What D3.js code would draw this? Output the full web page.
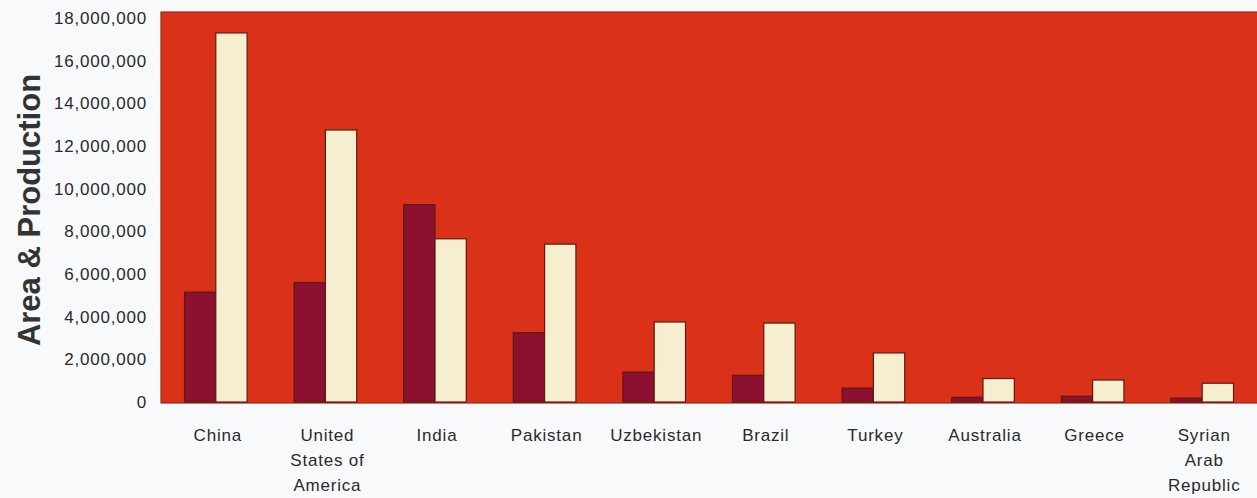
<!DOCTYPE html>
<html>
<head>
<meta charset="utf-8">
<script src="https://cdn.jsdelivr.net/npm/d3@7/dist/d3.min.js"></script>
<style>
  html, body { margin: 0; padding: 0; background: #f8f9fb; }
  svg { display: block; }
  .tick text, .cat { font-family: "Liberation Sans", Arial, sans-serif; font-size: 17px; letter-spacing: 0.8px; fill: #2a2a2a; }
</style>
</head>
<body>
<svg id="chart" width="1257" height="498"></svg>
<script>
// Cotton: harvested area (ha) and production (t) by country
const countries = ["China", "United States of America", "India", "Pakistan", "Uzbekistan",
                   "Brazil", "Turkey", "Australia", "Greece", "Syrian Arab Republic"];
const countryLines = [["China"], ["United", "States of", "America"], ["India"], ["Pakistan"],
                      ["Uzbekistan"], ["Brazil"], ["Turkey"], ["Australia"], ["Greece"],
                      ["Syrian", "Arab", "Republic"]];
const area       = [5150000, 5600000, 9250000, 3250000, 1400000, 1250000, 650000, 220000, 270000, 180000];
const production = [17300000, 12750000, 7650000, 7400000, 3750000, 3700000, 2300000, 1100000, 1030000, 880000];
const seriesKeys = ["area", "production"];
const yTicks = [0, 2000000, 4000000, 6000000, 8000000, 10000000, 12000000, 14000000, 16000000, 18000000];
const yTitle = "Area & Production";

const colors = { area: "#8c1030", production: "#f6efcf" };

const svg = d3.select("#chart");
const plot = { left: 161, right: 1257, top: 12, bottom: 403 };

const x0 = d3.scaleBand().domain(countries).range([plot.left, plot.right]).padding(0);
const x1 = d3.scaleBand().domain(seriesKeys).range([0, x0.bandwidth()])
  .paddingInner(0).paddingOuter(0.75);
const y = d3.scaleLinear().domain([0, 18000000]).range([402, 18]);

// plot background
svg.append("rect")
  .attr("x", plot.left).attr("y", plot.top)
  .attr("width", plot.right - plot.left + 2).attr("height", plot.bottom - plot.top)
  .attr("fill", "#da3219")
  .attr("stroke", "#9a2814").attr("stroke-width", 1.2);

// bars
const rows = countries.map((c, i) => ({ country: c, area: area[i], production: production[i] }));
const groups = svg.append("g").selectAll("g").data(rows).join("g")
  .attr("transform", d => `translate(${x0(d.country)},0)`);
groups.selectAll("rect")
  .data(d => seriesKeys.map(k => ({ key: k, value: d[k] })))
  .join("rect")
  .attr("x", d => x1(d.key))
  .attr("y", d => y(d.value))
  .attr("width", x1.bandwidth())
  .attr("height", d => y(0) - y(d.value))
  .attr("fill", d => colors[d.key])
  .attr("stroke", "#5c1a12").attr("stroke-width", 1.2);

// y axis
const yAxis = svg.append("g")
  .attr("transform", `translate(${plot.left},0)`)
  .call(d3.axisLeft(y).tickValues(yTicks).tickFormat(d3.format(",")).tickSize(0).tickPadding(14));
yAxis.select(".domain").remove();

// category labels
const cat = svg.append("g").selectAll("text").data(countries).join("text")
  .attr("class", "cat")
  .attr("text-anchor", "middle")
  .attr("x", d => x0(d) + x0.bandwidth() / 2 + 2)
  .attr("y", 441);
cat.each(function(d, i) {
  const t = d3.select(this);
  countryLines[i].forEach((line, j) => {
    t.append("tspan").attr("x", t.attr("x")).attr("dy", j === 0 ? 0 : 25).text(line);
  });
});

// y title
svg.append("text")
  .attr("transform", "translate(40,210) rotate(-90)")
  .attr("text-anchor", "middle")
  .attr("font-family", "Liberation Sans, Arial, sans-serif")
  .attr("font-weight", "bold")
  .attr("font-size", 31)
  .attr("fill", "#333")
  .text(yTitle);
</script>
</body>
</html>
